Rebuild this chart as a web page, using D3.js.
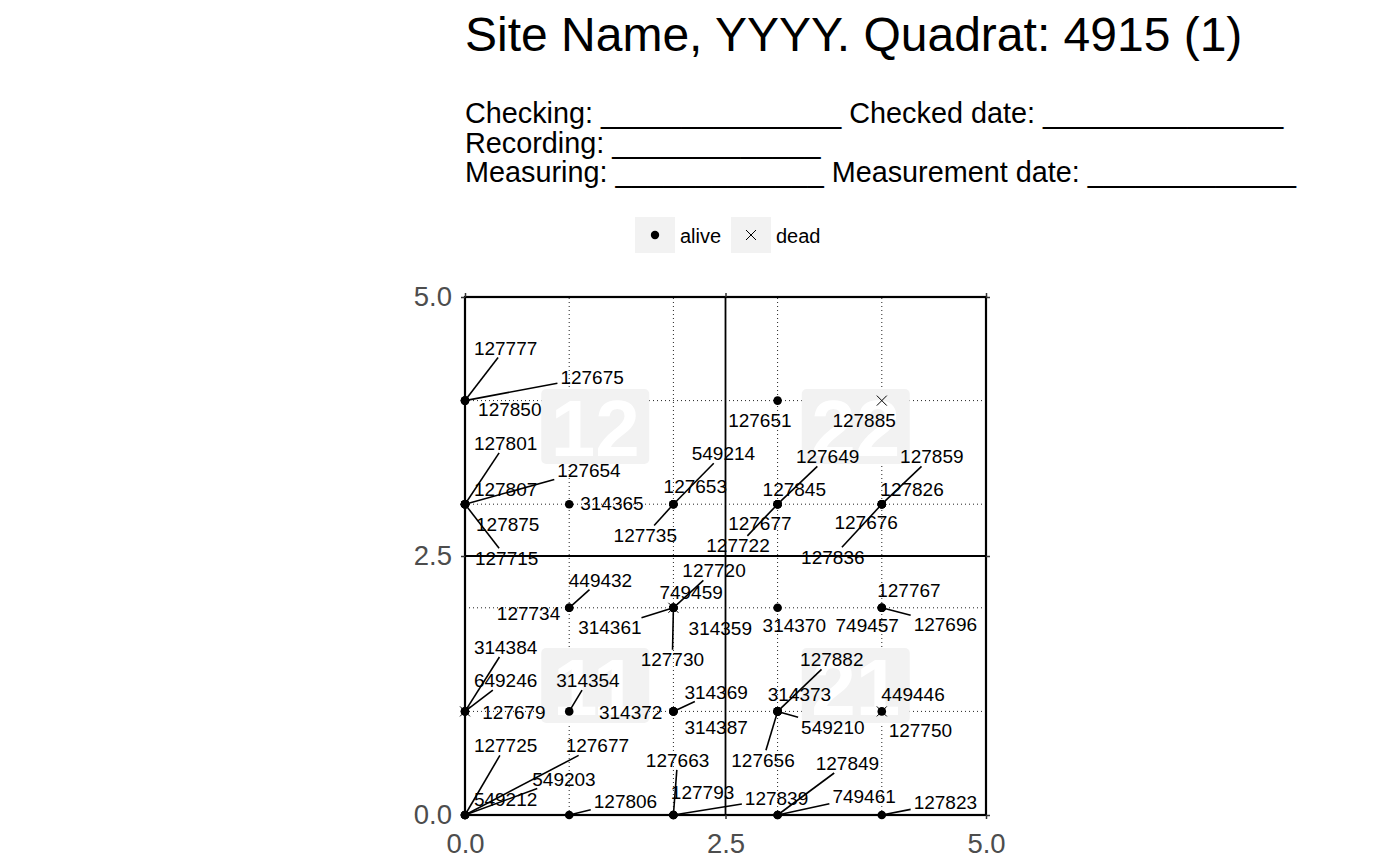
<!DOCTYPE html>
<html>
<head>
<meta charset="utf-8">
<script src="https://cdn.jsdelivr.net/npm/d3@7"></script>
<style>
  html, body { margin: 0; padding: 0; background: #ffffff; }
  svg { display: block; font-family: "Liberation Sans", Arial, sans-serif; }
</style>
</head>
<body>
<svg id="chart" width="1400" height="865"></svg>
<script>
// ---------------- DATA ----------------
const titleText = "Site Name, YYYY. Quadrat: 4915 (1)";
const subtitleLines = [
  "Checking: _______________ Checked date: _______________",
  "Recording: _____________",
  "Measuring: _____________ Measurement date: _____________"
];
const axisTicks = [0, 2.5, 5];
const gridValues = [1, 2, 3, 4];
const dividerValues = [2.5];
const statusLevels = ["alive", "dead"];

// sub-quadrat watermark labels
const subquadNames = ["11", "12", "21", "22"];
const subquadX = [1.25, 1.25, 3.75, 3.75];
const subquadY = [1.25, 3.75, 1.25, 3.75];

// trees: tag, grid position, status
const treeTags = [
  "127777","127675","127850","127801","127654","127807","127875","127715",
  "314365","549214","127653","127735","127651","127885","127649","127845",
  "127677","127722","127859","127826","127676","127836","449432","127734",
  "127720","749459","314361","314359","127730","314370","127767","749457",
  "127696","314384","649246","127679","314354","314369","314372","314387",
  "127882","314373","549210","127656","449446","127750","127725","127677",
  "549203","549212","127806","127663","127793","127839","127849","749461",
  "127823"
];
const treeX = [
  0,0,0,0,0,0,0,0,
  1,2,2,2,3,4,3,3,
  3,3,4,4,4,4,1,1,
  2,2,2,2,2,3,4,4,
  4,0,0,0,1,2,2,2,
  3,3,3,3,4,4,0,0,
  0,0,1,2,2,2,3,3,
  4
];
const treeY = [
  4,4,4,3,3,3,3,3,
  3,3,3,3,4,4,3,3,
  3,3,3,3,3,3,2,2,
  2,2,2,2,2,2,2,2,
  2,1,1,1,1,1,1,1,
  1,1,1,1,1,1,0,0,
  0,0,0,0,0,0,0,0,
  0
];
const treeStatus = [
  "alive","alive","alive","alive","alive","alive","alive","alive",
  "alive","alive","alive","alive","alive","dead","alive","alive",
  "alive","alive","alive","alive","alive","alive","alive","alive",
  "alive","dead","alive","alive","alive","alive","alive","alive",
  "alive","alive","alive","dead","alive","alive","alive","alive",
  "alive","alive","alive","alive","alive","dead","alive","alive",
  "alive","alive","alive","alive","alive","alive","alive","alive",
  "alive"
];
// repelled label positions (data units)
const labelX = [
  0.39,1.22,0.43,0.39,1.19,0.39,0.41,0.40,
  1.41,2.48,2.21,1.73,2.83,3.83,3.48,3.16,
  2.83,2.62,4.48,4.29,3.85,3.53,1.30,0.61,
  2.39,2.17,1.39,2.45,1.99,3.16,4.26,3.86,
  4.61,0.39,0.39,0.47,1.18,2.41,1.59,2.41,
  3.52,3.21,3.53,2.86,4.30,4.37,0.39,1.27,
  0.95,0.39,1.54,2.04,2.28,2.99,3.67,3.83,
  4.61
];
const labelY = [
  4.51,4.23,3.92,3.59,3.33,3.14,2.81,2.48,
  3.01,3.49,3.17,2.70,3.81,3.81,3.46,3.14,
  2.82,2.60,3.46,3.14,2.83,2.49,2.27,1.95,
  2.36,2.15,1.81,1.80,1.50,1.83,2.17,1.83,
  1.84,1.62,1.30,0.99,1.30,1.19,0.99,0.85,
  1.50,1.17,0.85,0.53,1.17,0.82,0.67,0.67,
  0.35,0.15,0.13,0.53,0.22,0.16,0.50,0.18,
  0.12
];
// whether a connector segment is drawn (1) or not (0)
const labelSegment = [
  1,1,0,1,1,0,0,1,
  0,1,0,1,0,0,1,0,
  0,1,1,0,0,1,1,0,
  1,0,1,0,1,0,0,0,
  1,1,1,0,1,1,0,0,
  1,0,1,1,0,0,1,1,
  1,0,1,1,0,1,1,1,
  1
];

// ---------------- DRAW ----------------
const svg = d3.select("#chart");
const x = d3.scaleLinear().domain([0, 5]).range([465, 986]);
const y = d3.scaleLinear().domain([0, 5]).range([815, 297]);
const FONT = '"Liberation Sans", Arial, sans-serif';

// title & subtitle
svg.append("text").attr("x", 465).attr("y", 51)
  .attr("font-size", 48).attr("fill", "#000").text(titleText);
svg.selectAll("text.sub").data(subtitleLines).join("text")
  .attr("class", "sub").attr("x", 465).attr("y", (d, i) => 123 + i * 29.7)
  .attr("font-size", 28.8).attr("fill", "#000").text(d => d);

// legend
const legend = svg.append("g");
const legendX = [635, 731];
statusLevels.forEach((s, i) => {
  const g = legend.append("g").attr("transform", `translate(${legendX[i]},217)`);
  g.append("rect").attr("width", 40).attr("height", 36).attr("fill", "#F2F2F2");
  if (s === "alive") {
    g.append("circle").attr("cx", 20).attr("cy", 18).attr("r", 4.2).attr("fill", "#000");
  } else {
    g.append("path").attr("d", "M15,13L25,23M25,13L15,23").attr("stroke", "#000").attr("stroke-width", 1);
  }
  g.append("text").attr("x", 45).attr("y", 25.5).attr("font-size", 20).attr("fill", "#000").text(s);
});

const plot = svg.append("g");

// dotted grid
plot.selectAll("line.gx").data(gridValues).join("line")
  .attr("x1", d => x(d)).attr("x2", d => x(d)).attr("y1", y(0)).attr("y2", y(5))
  .attr("stroke", "#222").attr("stroke-width", 1).attr("stroke-dasharray", "1,3");
plot.selectAll("line.gy").data(gridValues).join("line")
  .attr("y1", d => y(d)).attr("y2", d => y(d)).attr("x1", x(0)).attr("x2", x(5))
  .attr("stroke", "#222").attr("stroke-width", 1).attr("stroke-dasharray", "1,3");

// watermark sub-quadrat labels
const wm = plot.selectAll("g.wm").data(subquadNames).join("g").attr("class", "wm")
  .attr("transform", (d, i) => `translate(${x(subquadX[i])},${y(subquadY[i])})`);
wm.append("rect").attr("x", -54).attr("y", -37.5).attr("width", 108).attr("height", 75)
  .attr("rx", 5).attr("fill", "#F2F2F2");
wm.append("text").attr("text-anchor", "middle").attr("y", 29)
  .attr("font-size", 80).attr("font-weight", "bold").attr("fill", "#ffffff").text(d => d);

// divider lines at 2.5
dividerValues.forEach(v => {
  plot.append("line").attr("x1", x(v)).attr("x2", x(v)).attr("y1", y(0)).attr("y2", y(5))
    .attr("stroke", "#000").attr("stroke-width", 1.8);
  plot.append("line").attr("y1", y(v)).attr("y2", y(v)).attr("x1", x(0)).attr("x2", x(5))
    .attr("stroke", "#000").attr("stroke-width", 1.8);
});

// panel border
plot.append("rect").attr("x", x(0)).attr("y", y(5)).attr("width", x(5) - x(0)).attr("height", y(0) - y(5))
  .attr("fill", "none").attr("stroke", "#000").attr("stroke-width", 2.2);

// axes
const fmt = d3.format(".1f");
const styleAxis = g => {
  g.select(".domain").remove();
  g.selectAll(".tick line").attr("stroke", "#333").attr("stroke-width", 1.5);
  g.selectAll(".tick text").attr("fill", "#4D4D4D").attr("font-size", 27.5).attr("font-family", FONT);
};
svg.append("g").attr("transform", `translate(${x(0)},0)`)
  .call(d3.axisLeft(y).tickValues(axisTicks).tickFormat(fmt).tickSize(4).tickPadding(9)).call(styleAxis);
svg.append("g").attr("transform", `translate(0,${y(0)})`)
  .call(d3.axisBottom(x).tickValues(axisTicks).tickFormat(fmt).tickSize(4).tickPadding(14)).call(styleAxis);
svg.append("g").attr("transform", `translate(${x(5)},0)`)
  .call(d3.axisRight(y).tickValues(axisTicks).tickFormat("").tickSize(4)).call(styleAxis);
svg.append("g").attr("transform", `translate(0,${y(5)})`)
  .call(d3.axisTop(x).tickValues(axisTicks).tickFormat("").tickSize(4)).call(styleAxis);

// tree records
const trees = treeTags.map((t, i) => ({
  tag: t, gx: treeX[i], gy: treeY[i], status: treeStatus[i],
  lx: labelX[i], ly: labelY[i], seg: labelSegment[i]
}));

// labels (measure first for segments)
const LFS = 19;
const labG = svg.append("g");
const labels = labG.selectAll("text").data(trees).join("text")
  .attr("x", d => x(d.lx)).attr("y", d => y(d.ly) + LFS * 0.358)
  .attr("text-anchor", "middle").attr("font-size", LFS).attr("fill", "#000")
  .text(d => d.tag);
labels.each(function(d) { d.w = this.getComputedTextLength(); });

// segments
const segG = svg.insert("g", () => labG.node());
trees.filter(d => d.seg).forEach(d => {
  const px = x(d.gx), py = y(d.gy), cx = x(d.lx), cy = y(d.ly);
  const dx = px - cx, dy = py - cy;
  const hw = d.w / 2 + 3, hh = LFS * 0.358 + 3;
  const s = Math.min(dx !== 0 ? hw / Math.abs(dx) : Infinity, dy !== 0 ? hh / Math.abs(dy) : Infinity);
  if (s >= 1) return;
  segG.append("line").attr("x1", px).attr("y1", py)
    .attr("x2", cx + dx * s).attr("y2", cy + dy * s)
    .attr("stroke", "#000").attr("stroke-width", 1.6);
});

// points
const ptG = svg.insert("g", () => labG.node());
trees.filter(d => d.status === "alive").forEach(d => {
  ptG.append("circle").attr("cx", x(d.gx)).attr("cy", y(d.gy)).attr("r", 4.3).attr("fill", "#000");
});
trees.filter(d => d.status === "dead").forEach(d => {
  const cx = x(d.gx), cy = y(d.gy);
  ptG.append("path").attr("d", `M${cx-5},${cy-5}L${cx+5},${cy+5}M${cx+5},${cy-5}L${cx-5},${cy+5}`)
    .attr("stroke", "#000").attr("stroke-width", 1);
});
</script>
</body>
</html>
